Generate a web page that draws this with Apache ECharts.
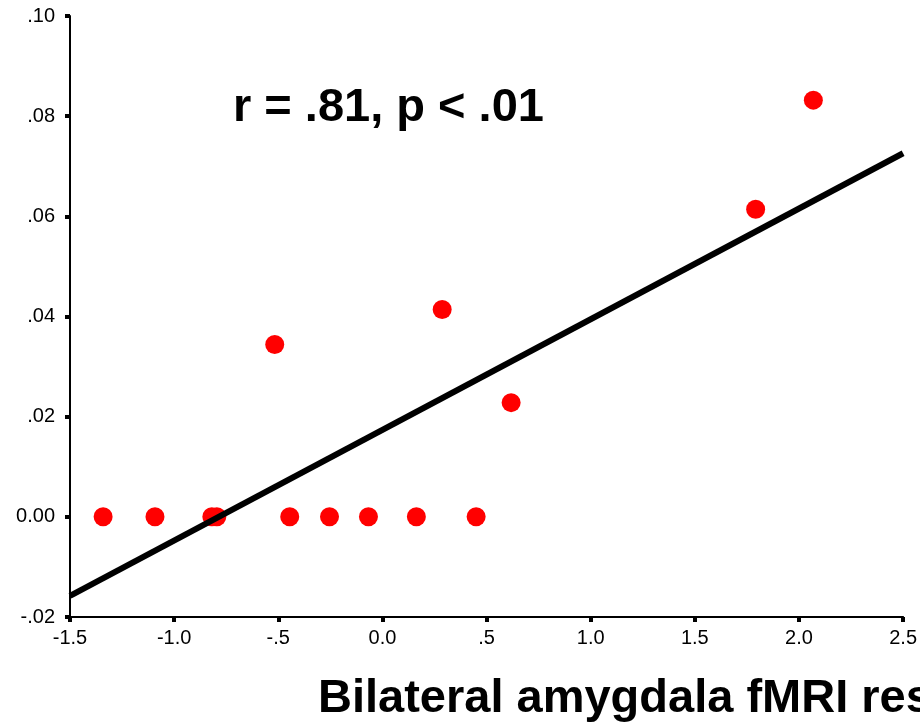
<!DOCTYPE html>
<html>
<head>
<meta charset="utf-8">
<script src="https://cdn.jsdelivr.net/npm/echarts@6/dist/echarts.min.js"></script>
<style>html,body{margin:0;padding:0;background:#fff;}#c{width:920px;height:723px;}</style>
</head>
<body>
<div id="c"></div>
<script>
// Data
var amygdalaX = [-1.341, -1.092, -0.819, -0.795, -0.517, -0.445, -0.254, -0.067, 0.163, 0.287, 0.450, 0.618, 1.792, 2.069];
var outcomeY  = [0.0, 0.0, 0.0, 0.0, 0.0344, 0.0, 0.0, 0.0, 0.0, 0.0414, 0.0, 0.0228, 0.0614, 0.0832];
var fitLineX = [-1.5, 2.5];
var fitLineY = [-0.0158, 0.0726];
var xTickValues = [-1.5, -1.0, -0.5, 0.0, 0.5, 1.0, 1.5, 2.0, 2.5];
var xTickLabels = ['-1.5', '-1.0', '-.5', '0.0', '.5', '1.0', '1.5', '2.0', '2.5'];
var yTickValues = [-0.02, 0.0, 0.02, 0.04, 0.06, 0.08, 0.10];
var yTickLabels = ['-.02', '0.00', '.02', '.04', '.06', '.08', '.10'];
var statText = 'r = .81, p < .01';
var xTitle = 'Bilateral amygdala fMRI response';

function lookup(vals, labels, v) {
  for (var i = 0; i < vals.length; i++) if (Math.abs(vals[i] - v) < 1e-6) return labels[i];
  return '';
}

var scatterData = amygdalaX.map(function (x, i) { return [x, outcomeY[i]]; });
var lineData = fitLineX.map(function (x, i) { return [x, fitLineY[i]]; });

var FONT = '"Liberation Sans", Arial, sans-serif';
var chart = echarts.init(document.getElementById('c'), null, { renderer: 'canvas' });
chart.setOption({
  animation: false,
  backgroundColor: '#ffffff',
  grid: { left: 70, right: 15, top: 16, bottom: 106, containLabel: false },
  xAxis: {
    type: 'value', min: -1.5, max: 2.5, interval: 0.5,
    splitLine: { show: false },
    axisLine: { show: true, onZero: false, lineStyle: { color: '#000', width: 2 } },
    axisTick: { show: true, length: 5, lineStyle: { color: '#000', width: 4 } },
    axisLabel: {
      color: '#000', fontSize: 20, fontFamily: FONT, margin: 11,
      formatter: function (v) { return lookup(xTickValues, xTickLabels, v); }
    }
  },
  yAxis: {
    type: 'value', min: -0.02, max: 0.10, interval: 0.02,
    splitLine: { show: false },
    axisLine: { show: true, onZero: false, lineStyle: { color: '#000', width: 2 } },
    axisTick: { show: true, length: 5, lineStyle: { color: '#000', width: 4 } },
    axisLabel: {
      color: '#000', fontSize: 20, fontFamily: FONT, margin: 15,
      formatter: function (v) { return lookup(yTickValues, yTickLabels, v); }
    }
  },
  series: [
    {
      type: 'scatter', data: scatterData, symbol: 'circle', symbolSize: 19,
      itemStyle: { color: '#ff0000', opacity: 1 }, z: 2
    },
    {
      type: 'line', data: lineData, symbol: 'none', z: 3,
      lineStyle: { color: '#000', width: 6 }
    }
  ],
  graphic: [
    {
      type: 'text', left: 233, top: 85, z: 10,
      style: { text: statText, fill: '#000', font: 'bold 47px ' + FONT }
    },
    {
      type: 'text', left: 318, top: 676, z: 10,
      style: { text: xTitle, fill: '#000', font: 'bold 47px ' + FONT }
    }
  ]
});
</script>
</body>
</html>
